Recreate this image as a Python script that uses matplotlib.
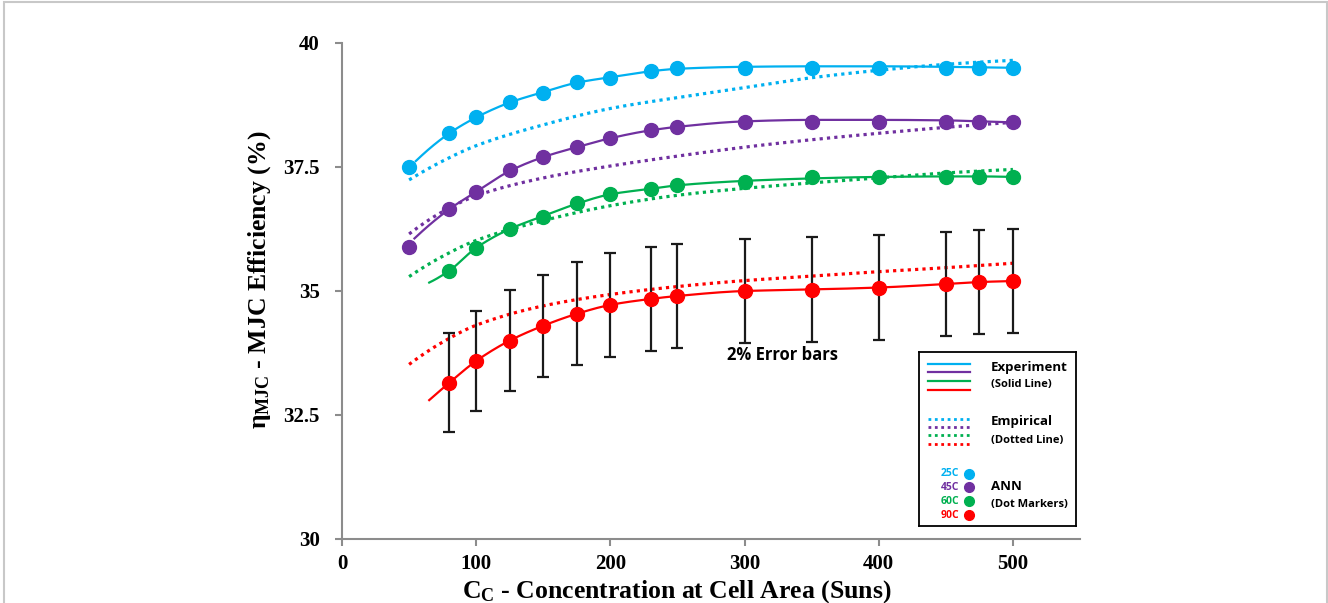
import numpy as np
import matplotlib
matplotlib.use('Agg')
import matplotlib.pyplot as plt
from matplotlib.patches import Rectangle
from matplotlib.lines import Line2D

# ---------------- data ----------------
conc = [50, 80, 100, 125, 150, 175, 200, 230, 250, 300, 350, 400, 450, 475, 500]
conc_no50 = conc[1:]

# ANN predictions (dot markers)
ann_25 = [37.50, 38.19, 38.51, 38.81, 39.00, 39.21, 39.30, 39.43, 39.50, 39.50, 39.50, 39.50, 39.50, 39.50, 39.49]
ann_45 = [35.89, 36.65, 37.00, 37.44, 37.71, 37.90, 38.09, 38.25, 38.31, 38.40, 38.40, 38.40, 38.40, 38.40, 38.40]
ann_60 = [35.41, 35.87, 36.25, 36.50, 36.78, 36.96, 37.05, 37.14, 37.20, 37.30, 37.30, 37.30, 37.30, 37.30]
ann_90 = [33.15, 33.59, 34.00, 34.29, 34.54, 34.72, 34.84, 34.90, 35.00, 35.03, 35.07, 35.14, 35.18, 35.20]
err_fraction = 0.03  # error bar half-width relative to value

# Experiment (solid lines)
exp_conc_25 = [55, 80, 100, 125, 150, 175, 200, 230, 250, 300, 350, 400, 450, 475, 500]
exp_25 = [37.62, 38.18, 38.50, 38.80, 39.01, 39.20, 39.31, 39.43, 39.48, 39.52, 39.53, 39.53, 39.52, 39.51, 39.50]
exp_conc_45 = [54, 80, 100, 125, 150, 175, 200, 230, 250, 300, 350, 400, 450, 475, 500]
exp_45 = [36.06, 36.65, 37.00, 37.42, 37.70, 37.90, 38.08, 38.24, 38.31, 38.42, 38.45, 38.45, 38.44, 38.42, 38.40]
exp_conc_60 = [65, 80, 100, 125, 150, 175, 200, 230, 250, 300, 350, 400, 450, 475, 500]
exp_60 = [35.17, 35.41, 35.87, 36.25, 36.51, 36.76, 36.95, 37.06, 37.13, 37.22, 37.27, 37.30, 37.31, 37.31, 37.30]
exp_conc_90 = [65, 80, 100, 125, 150, 175, 200, 230, 250, 300, 350, 400, 450, 475, 500]
exp_90 = [32.80, 33.15, 33.59, 34.00, 34.30, 34.54, 34.72, 34.84, 34.90, 35.00, 35.03, 35.07, 35.14, 35.18, 35.20]

# Empirical (dotted lines)
emp_conc = [50, 75, 100, 150, 200, 250, 300, 350, 400, 450, 500]
emp_25 = [37.24, 37.62, 37.93, 38.35, 38.68, 38.90, 39.10, 39.30, 39.45, 39.57, 39.65]
emp_45 = [36.15, 36.60, 36.92, 37.28, 37.52, 37.72, 37.90, 38.05, 38.18, 38.30, 38.40]
emp_60 = [35.29, 35.70, 36.02, 36.42, 36.72, 36.93, 37.07, 37.18, 37.28, 37.38, 37.45]
emp_90 = [33.52, 33.97, 34.31, 34.70, 34.93, 35.09, 35.21, 35.30, 35.39, 35.47, 35.56]

temps = ['25C', '45C', '60C', '90C']
colors = ['#00B0F0', '#7030A0', '#00B050', '#FF0000']

x_ticks = [0, 100, 200, 300, 400, 500]
y_ticks = [30, 32.5, 35, 37.5, 40]
y_tick_labels = ['30', '32.5', '35', '37.5', '40']


def pchip(x, y, xs):
    """Monotone cubic interpolation for smooth line rendering."""
    x = np.asarray(x, float); y = np.asarray(y, float)
    h = np.diff(x); delta = np.diff(y) / h
    n = len(x); d = np.zeros(n)
    for k in range(1, n - 1):
        if delta[k - 1] * delta[k] > 0:
            w1 = 2 * h[k] + h[k - 1]; w2 = h[k] + 2 * h[k - 1]
            d[k] = (w1 + w2) / (w1 / delta[k - 1] + w2 / delta[k])
    def end(h0, h1, d0, d1):
        v = ((2 * h0 + h1) * d0 - h0 * d1) / (h0 + h1)
        if np.sign(v) != np.sign(d0):
            v = 0.0
        elif np.sign(d0) != np.sign(d1) and abs(v) > abs(3 * d0):
            v = 3 * d0
        return v
    d[0] = end(h[0], h[1], delta[0], delta[1])
    d[-1] = end(h[-1], h[-2], delta[-1], delta[-2])
    xs = np.asarray(xs, float)
    idx = np.clip(np.searchsorted(x, xs) - 1, 0, n - 2)
    t = (xs - x[idx]) / h[idx]
    h00 = 2 * t**3 - 3 * t**2 + 1; h10 = t**3 - 2 * t**2 + t
    h01 = -2 * t**3 + 3 * t**2; h11 = t**3 - t**2
    return h00 * y[idx] + h10 * h[idx] * d[idx] + h01 * y[idx + 1] + h11 * h[idx] * d[idx + 1]


def smooth_line(ax, x, y, **kw):
    xs = np.linspace(x[0], x[-1], 300)
    ax.plot(xs, pchip(x, y, xs), **kw)


plt.rcParams['mathtext.fontset'] = 'custom'
plt.rcParams['mathtext.rm'] = 'Liberation Serif:bold'
plt.rcParams['mathtext.it'] = 'Liberation Serif:bold'
plt.rcParams['mathtext.bf'] = 'Liberation Serif:bold'

fig = plt.figure(figsize=(13.28, 6.03), dpi=100)
ax = fig.add_axes([342 / 1328, 1 - 539 / 603, (1080 - 342) / 1328, (539 - 43) / 603])

dotted = (0, (1, 1.3))
exp_sets = [(exp_conc_25, exp_25), (exp_conc_45, exp_45), (exp_conc_60, exp_60), (exp_conc_90, exp_90)]
emp_sets = [emp_25, emp_45, emp_60, emp_90]
ann_sets = [(conc, ann_25), (conc, ann_45), (conc_no50, ann_60), (conc_no50, ann_90)]

for c, (ex, ey), emy in zip(colors, exp_sets, emp_sets):
    smooth_line(ax, emp_conc, emy, color=c, lw=2.3, ls=dotted, zorder=2)
    smooth_line(ax, ex, ey, color=c, lw=1.6, zorder=3)

# error bars on 90C
ann_90_arr = np.array(ann_90)
ax.errorbar(conc_no50, ann_90, yerr=ann_90_arr * err_fraction, fmt='none',
            ecolor='#1a1a1a', elinewidth=1.6, capsize=4, capthick=1.6, zorder=4)

for c, (ax_x, ax_y) in zip(colors, ann_sets):
    ax.plot(ax_x, ax_y, 'o', color=c, ms=10, mec=c, zorder=5)

ax.set_xlim(0, 550)
ax.set_ylim(30, 40)
ax.set_xticks(x_ticks)
ax.set_yticks(y_ticks)
ax.set_yticklabels(y_tick_labels)
for s in ['top', 'right']:
    ax.spines[s].set_visible(False)
for s in ['left', 'bottom']:
    ax.spines[s].set_color('#8c8c8c')
    ax.spines[s].set_linewidth(1.5)
ax.tick_params(axis='both', colors='#8c8c8c', length=5, width=1.5, direction='out')
ax.tick_params(axis='y', pad=11)
ax.tick_params(axis='x', pad=6)
for lab in ax.get_xticklabels() + ax.get_yticklabels():
    lab.set_family('Liberation Serif'); lab.set_weight('bold')
    lab.set_fontsize(15); lab.set_color('black')

ax.set_xlabel(r'$\mathrm{C_C}$ - Concentration at Cell Area (Suns)',
              family='Liberation Serif', weight='bold', fontsize=18.5)
ax.set_ylabel(r'$\mathrm{\eta_{MJC}}$ - MJC Efficiency (%)',
              family='Liberation Serif', weight='bold', fontsize=18.5)
ax.xaxis.set_label_coords(0.454, -0.079)
ax.yaxis.set_label_coords(-0.094, 0.522)

ax.text(328, 33.71, '2% Error bars', family='Open Sans', weight='bold', fontsize=12,
        ha='center', va='center')

# ---------- custom legend box ----------
lx0, lx1, ly0, ly1 = 919, 1076, 352, 526
lax = fig.add_axes([lx0 / 1328, 1 - ly1 / 603, (lx1 - lx0) / 1328, (ly1 - ly0) / 603])
lax.set_xlim(lx0, lx1); lax.set_ylim(ly1, ly0)
lax.set_xticks([]); lax.set_yticks([])
for s in lax.spines.values():
    s.set_color('black'); s.set_linewidth(1.3)
for c, yy in zip(colors, [364, 372, 381, 390]):
    lax.add_line(Line2D([928, 970], [yy, yy], color=c, lw=1.6))
for c, yy in zip(colors, [419, 427, 435, 444]):
    lax.add_line(Line2D([928, 970], [yy, yy], color=c, lw=2.0, ls=dotted))
for c, t, yy in zip(colors, temps, [474, 487, 501, 515]):
    lax.text(959, yy, t, color=c, family='Open Sans', weight='bold', fontsize=7.5,
             ha='right', va='center')
    lax.plot([969], [yy], 'o', color=c, ms=7)
tkw = dict(family='Open Sans', weight='bold', color='black', va='center', ha='left')
lax.text(991, 367, 'Experiment', fontsize=9.5, **tkw)
lax.text(991, 385, '(Solid Line)', fontsize=8, **tkw)
lax.text(991, 422, 'Empirical', fontsize=9.5, **tkw)
lax.text(991, 440, '(Dotted Line)', fontsize=8, **tkw)
lax.text(991, 487, 'ANN', fontsize=9.5, **tkw)
lax.text(991, 504, '(Dot Markers)', fontsize=8, **tkw)

# outer light frame
fig.add_artist(Rectangle((4 / 1328, -0.02), (1327 - 4) / 1328, 1.02 - 2 / 603,
                         transform=fig.transFigure, fill=False, edgecolor='#c8c8c8', lw=1.5))

fig.savefig('out.png', dpi=100)
